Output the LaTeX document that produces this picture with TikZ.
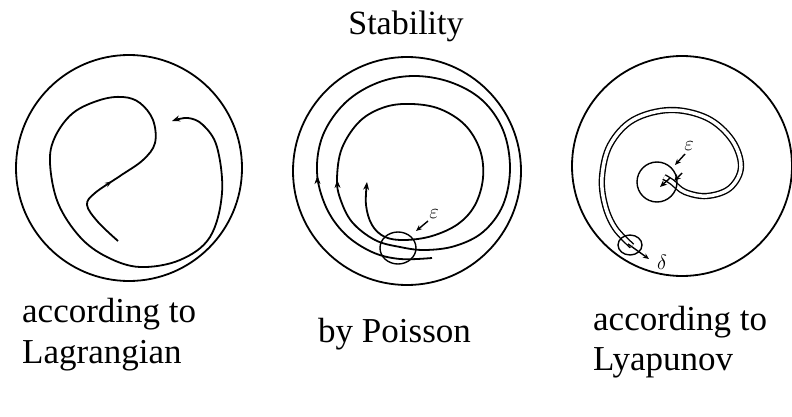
\documentclass[tikz,border=0pt]{standalone}
\usepackage{fontspec}
\setmainfont{Liberation Serif}
\usetikzlibrary{arrows.meta,decorations.markings}
\begin{document}
\begin{tikzpicture}[x=1pt,y=-1pt,
  ring/.style={draw, line width=1.8pt},
  traj/.style={draw, line width=1.8pt},
  thin/.style={draw, line width=1.4pt},
  tip/.style={-{Stealth[length=8pt,width=6pt]}},
  small tip/.style={-{Stealth[length=6pt,width=5pt]}},
  lbl/.style={font=\fontsize{35}{40}\selectfont, inner sep=0pt, anchor=base west},
  greek/.style={font=\fontsize{20}{22}\selectfont, inner sep=0pt}
]
\useasboundingbox (0,0) rectangle (792,417);
% title
\node[font=\fontsize{34}{38}\selectfont, inner sep=0pt, anchor=base] (title) at (406,35) {Stability};

% ---------- Lagrange ----------
\draw[ring] (129,168) circle (113);
\draw[traj, tip, postaction={decorate}, decoration={markings, mark=at position 0.12 with {\arrow{Stealth[length=7pt,width=5pt]}}}]
  plot[smooth, tension=0.6] coordinates {(118,241) (98,222) (87,205) (95,193) (120,176) (143,160) (155,143) (153,120) (140,103) (123,97) (100,100) (73,113) (55,137) (50,163) (58,203) (80,237) (107,257) (140,267) (180,260) (210,237) (222,193) (217,147) (203,125) (188,118) (172,121)};

% ---------- Poisson ----------
\draw[ring] (407,171) circle (114);
\draw[traj, tip]
  plot[smooth, tension=0.6] coordinates {(432,258) (400,259) (372,252) (345,234) (326,207) (317,172) (323,135) (345,103) (377,83) (413,76) (450,82) (482,100) (503,130) (510,168) (503,205) (483,232) (455,246) (425,250) (400,247) (375,240) (352,222) (340,198) (337,178) (342,148) (360,121) (385,107) (412,104) (440,109) (465,125) (480,150) (483,178) (475,205) (458,224) (432,236) (405,240) (385,237) (372,225) (366,205) (367,182)};
\draw[tip] (317.5,184) -- (317.3,176);
\draw[tip] (337.5,188) -- (337.2,180);
\draw[thin] (398,248) ellipse (18 and 16);
\node[greek] (epsP) at (434,214) {$\varepsilon$};
\draw[thin, small tip] (428,221) -- (416,231);

% ---------- Lyapunov ----------
\draw[ring] (682,166) circle (110);
\draw[line width=1.4pt, double, double distance=3.5pt]
  plot[smooth, tension=0.6] coordinates {(632,246) (615,228) (605,205) (602,177) (610,145) (633,120) (670,110) (707,118) (732,140) (741,167) (730,188) (707,196) (685,192) (672,182) (664,177)};
\draw[thin] (657,182) circle (20);
\draw[thin, -{Stealth[length=7pt,width=6pt]}] (670,178) -- (660,187);
\draw[thin, -{Stealth[length=7pt,width=6pt]}] (682,173) -- (674,181);
\node[greek] (epsL) at (689,146) {$\varepsilon$};
\draw[thin, small tip] (685,154) -- (675,165);
\draw[thin] (630,245) ellipse (12 and 10);
\node[greek] (delL) at (662,262) {$\delta$};
\draw[thin, small tip] (628,244) -- (649,259);

% ---------- labels ----------
\node[lbl] (l1) at (22,322) {according to};
\node[lbl] (l1b) at (22,363) {Lagrangian};
\node[lbl] (l2) at (318,342) {by Poisson};
\node[lbl] (l3) at (593,330) {according to};
\node[lbl] (l3b) at (593,370) {Lyapunov};
\end{tikzpicture}
\end{document}
